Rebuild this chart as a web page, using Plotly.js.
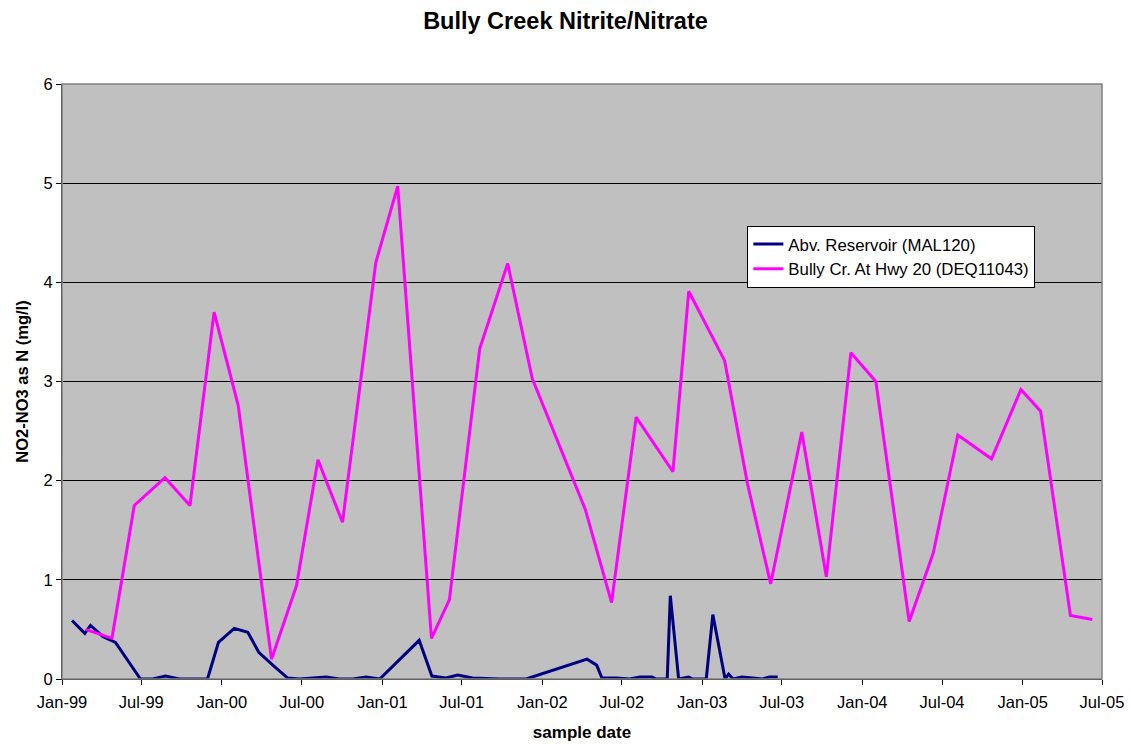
<!DOCTYPE html>
<html>
<head>
<meta charset="utf-8">
<script src="https://cdn.plot.ly/plotly-3.0.1.min.js"></script>
<style>html,body{margin:0;padding:0;background:#fff;}#chart{width:1131px;height:744px;}</style>
</head>
<body>
<div id="chart"></div>
<script>
// Abv. Reservoir (MAL120)
const abvDates = ['1999-01-24','1999-02-22','1999-03-07','1999-04-04','1999-05-03','1999-06-29','1999-07-27','1999-08-25','1999-09-26','1999-11-29','1999-12-24',
  '2000-01-29','2000-02-29','2000-03-25','2000-04-26','2000-05-30','2000-06-26','2000-08-26','2000-09-25','2000-10-26','2000-11-25','2000-12-26',
  '2001-03-26','2001-04-24','2001-05-26','2001-06-22','2001-07-26','2001-09-25','2001-11-25',
  '2002-04-13','2002-05-05','2002-05-17','2002-06-18','2002-07-19','2002-08-12','2002-09-08','2002-09-18','2002-10-13','2002-10-20','2002-11-08','2002-12-01','2002-12-10',
  '2003-01-10','2003-01-25','2003-02-22','2003-03-02','2003-03-12','2003-04-01','2003-04-26','2003-05-18','2003-06-03','2003-06-22'];
const abvValues = [0.59,0.46,0.54,0.43,0.37,0.00,0.00,0.03,0.00,0.00,0.37,
  0.51,0.47,0.27,0.14,0.01,0.00,0.02,0.00,0.00,0.02,0.00,
  0.39,0.03,0.01,0.04,0.01,0.00,0.00,
  0.20,0.14,0.01,0.01,0.00,0.02,0.02,0.00,0.00,0.84,0.00,0.02,0.00,
  0.00,0.65,0.00,0.05,0.00,0.02,0.01,0.00,0.02,0.02];

// Bully Cr. At Hwy 20 (DEQ11043)
const hwyDates = ['1999-02-24','1999-04-25','1999-06-15','1999-08-24','1999-10-20','1999-12-14',
  '2000-02-07','2000-04-23','2000-06-19','2000-08-07','2000-10-02','2000-12-17',
  '2001-02-05','2001-04-23','2001-06-03','2001-08-11','2001-10-14','2001-12-09',
  '2002-04-09','2002-06-08','2002-08-03','2002-10-26','2002-12-01',
  '2003-02-21','2003-04-14','2003-06-06','2003-08-16','2003-10-11','2003-12-06',
  '2004-02-01','2004-04-17','2004-06-11','2004-08-06','2004-10-22','2004-12-28',
  '2005-02-11','2005-04-20','2005-06-09'];
const hwyValues = [0.50,0.41,1.75,2.03,1.75,3.70,
  2.76,0.20,0.94,2.21,1.58,4.20,
  4.97,0.41,0.80,3.33,4.19,3.03,
  1.71,0.77,2.64,2.09,3.91,
  3.21,1.97,0.96,2.49,1.03,3.29,
  3.00,0.58,1.27,2.46,2.22,2.92,
  2.70,0.64,0.60];

const FONT = 'Liberation Sans, Arial, sans-serif';

const traces = [
  {x: abvDates, y: abvValues, type: 'scatter', mode: 'lines', name: 'Abv. Reservoir (MAL120)',
   line: {color: '#000080', width: 3}},
  {x: hwyDates, y: hwyValues, type: 'scatter', mode: 'lines', name: 'Bully Cr. At Hwy 20 (DEQ11043)',
   line: {color: '#FF00FF', width: 3}}
];

const layout = {
  width: 1131, height: 744,
  margin: {l: 62, r: 29, t: 84, b: 65},
  paper_bgcolor: '#ffffff',
  plot_bgcolor: '#C0C0C0',
  font: {family: FONT, size: 16, color: '#000'},
  title: {text: '<b>Bully Creek Nitrite/Nitrate</b>', font: {family: FONT, size: 23.5, color: '#000'},
          xref: 'container', x: 0.5, xanchor: 'center', yref: 'container', y: 0.972, yanchor: 'middle'},
  xaxis: {
    type: 'date', range: ['1999-01-01', '2005-07-01'],
    tick0: '1999-01-01', dtick: 'M6', tickformat: '%b-%y',
    ticks: 'outside', ticklen: 5, tickcolor: '#000', tickwidth: 1,
    ticklabelstandoff: 3,
    showline: true, linecolor: '#000', linewidth: 1,
    showgrid: false, zeroline: false,
    tickfont: {family: FONT, size: 16.5, color: '#000'},
    title: {text: '<b>sample date</b>', font: {family: FONT, size: 17, color: '#000'}, standoff: 16}
  },
  yaxis: {
    range: [0, 6], dtick: 1, tick0: 0,
    ticks: 'outside', ticklen: 5, tickcolor: '#000', tickwidth: 1,
    showline: true, linecolor: '#000', linewidth: 1,
    showgrid: true, gridcolor: '#000', gridwidth: 1,
    zeroline: false,
    tickfont: {family: FONT, size: 16.5, color: '#000'},
    title: {text: '<b>NO2-NO3 as N (mg/l)</b>', font: {family: FONT, size: 16.5, color: '#000'}, standoff: 10}
  },
  shapes: [
    {type: 'rect', xref: 'paper', yref: 'paper', x0: 0, x1: 1, y0: 0, y1: 1,
     line: {color: '#808080', width: 1.5}, fillcolor: 'rgba(0,0,0,0)', layer: 'above'}
  ],
  legend: {
    x: 0.659, y: 0.762, xanchor: 'left', yanchor: 'top',
    bgcolor: '#ffffff', bordercolor: '#000', borderwidth: 1,
    font: {family: FONT, size: 16.8, color: '#000'},
    tracegroupgap: 0
  },
  showlegend: true
};

Plotly.newPlot('chart', traces, layout, {displayModeBar: false, staticPlot: true});
</script>
</body>
</html>
